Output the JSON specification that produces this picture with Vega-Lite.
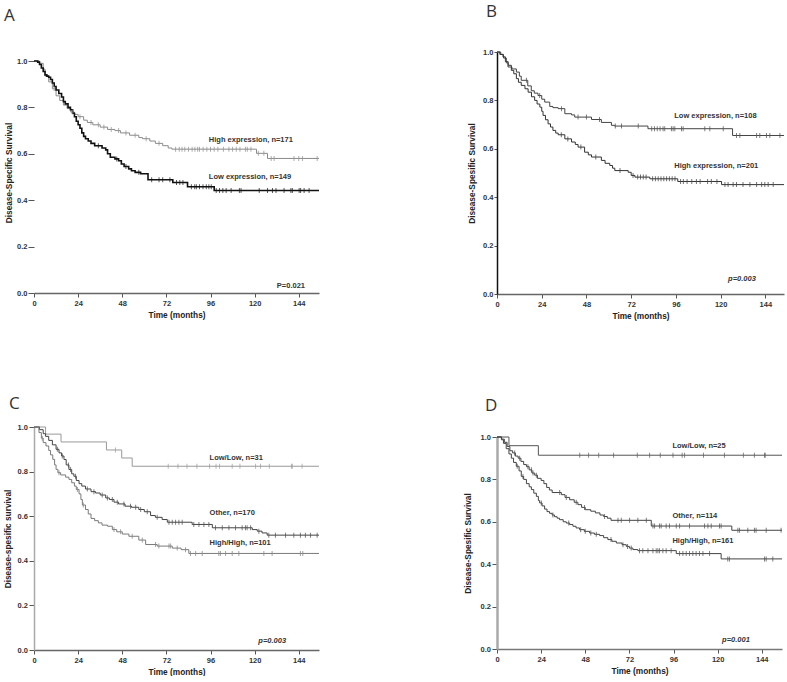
{
  "$schema": "https://vega.github.io/schema/vega-lite/v6.json",
  "background": "white",
  "padding": {"left": 3, "top": 2, "right": 0, "bottom": 0},
  "config": {
    "view": {"stroke": null},
    "title": {"font": "Open Sans", "fontSize": 17, "fontWeight": "normal", "color": "#333", "anchor": "start", "frame": "group"},
    "axis": {"labelFont": "Liberation Sans", "labelFontWeight": "bold", "labelFontSize": 7.5, "labelColor": "#333", "titleFont": "Liberation Sans", "titleFontWeight": "bold", "titleFontSize": 8.3, "titleColor": "#222", "tickColor": "#555", "domainWidth": 1.5, "grid": false, "labelFlush": false, "labelOverlap": false},
    "text": {"font": "Liberation Sans", "fontWeight": "bold", "fontSize": 7.5, "color": "#333"}
  },
  "datasets": {
    "A": [
      {"g":"High","t":0,"s":1},{"g":"High","t":3,"s":0.99},{"g":"High","t":5,"s":0.965},{"g":"High","t":6,"s":0.935},{"g":"High","t":8,"s":0.91},{"g":"High","t":10,"s":0.88},{"g":"High","t":11,"s":0.88,"c":1},{"g":"High","t":12,"s":0.85},{"g":"High","t":14,"s":0.83},{"g":"High","t":16,"s":0.81},{"g":"High","t":18,"s":0.795},{"g":"High","t":20,"s":0.78},{"g":"High","t":21,"s":0.78,"c":1},{"g":"High","t":22,"s":0.77},{"g":"High","t":24,"s":0.76},{"g":"High","t":25,"s":0.76,"c":1},{"g":"High","t":27,"s":0.745},{"g":"High","t":29,"s":0.735},{"g":"High","t":31,"s":0.735,"c":1},{"g":"High","t":32,"s":0.725},{"g":"High","t":35,"s":0.725,"c":1},{"g":"High","t":36,"s":0.715},{"g":"High","t":38,"s":0.715,"c":1},{"g":"High","t":40,"s":0.705},{"g":"High","t":42,"s":0.705,"c":1},{"g":"High","t":44,"s":0.7},{"g":"High","t":46,"s":0.7,"c":1},{"g":"High","t":47,"s":0.69},{"g":"High","t":50,"s":0.69,"c":1},{"g":"High","t":52,"s":0.68},{"g":"High","t":55,"s":0.68,"c":1},{"g":"High","t":57,"s":0.67},{"g":"High","t":59,"s":0.665},{"g":"High","t":61,"s":0.665,"c":1},{"g":"High","t":63,"s":0.655},{"g":"High","t":66,"s":0.645},{"g":"High","t":68,"s":0.645,"c":1},{"g":"High","t":70,"s":0.635},{"g":"High","t":73,"s":0.625},{"g":"High","t":75,"s":0.62},{"g":"High","t":77,"s":0.62,"c":1},{"g":"High","t":79,"s":0.62,"c":1},{"g":"High","t":80.5,"s":0.62,"c":1},{"g":"High","t":82,"s":0.62,"c":1},{"g":"High","t":84,"s":0.62,"c":1},{"g":"High","t":86,"s":0.62,"c":1},{"g":"High","t":87.5,"s":0.62,"c":1},{"g":"High","t":89,"s":0.62,"c":1},{"g":"High","t":90,"s":0.62,"c":1},{"g":"High","t":92,"s":0.62,"c":1},{"g":"High","t":94,"s":0.62,"c":1},{"g":"High","t":96,"s":0.62,"c":1},{"g":"High","t":98,"s":0.62,"c":1},{"g":"High","t":100,"s":0.62,"c":1},{"g":"High","t":103,"s":0.62,"c":1},{"g":"High","t":106,"s":0.62,"c":1},{"g":"High","t":108,"s":0.62,"c":1},{"g":"High","t":110,"s":0.62,"c":1},{"g":"High","t":112,"s":0.62,"c":1},{"g":"High","t":115,"s":0.62,"c":1},{"g":"High","t":116,"s":0.62,"c":1},{"g":"High","t":118,"s":0.62,"c":1},{"g":"High","t":121,"s":0.602},{"g":"High","t":122,"s":0.602,"c":1},{"g":"High","t":125,"s":0.602,"c":1},{"g":"High","t":127,"s":0.58},{"g":"High","t":129,"s":0.58,"c":1},{"g":"High","t":130.6,"s":0.58,"c":1},{"g":"High","t":141.4,"s":0.58,"c":1},{"g":"High","t":144,"s":0.58,"c":1},{"g":"High","t":146,"s":0.58,"c":1},{"g":"High","t":154,"s":0.58,"c":1},{"g":"High","t":155,"s":0.58},
      {"g":"Low","t":0,"s":1},{"g":"Low","t":2,"s":0.995},{"g":"Low","t":3,"s":0.985},{"g":"Low","t":4,"s":0.97},{"g":"Low","t":5,"s":0.955},{"g":"Low","t":6,"s":0.94},{"g":"Low","t":7,"s":0.935},{"g":"Low","t":8,"s":0.93},{"g":"Low","t":9,"s":0.92},{"g":"Low","t":10,"s":0.905},{"g":"Low","t":11,"s":0.89},{"g":"Low","t":12,"s":0.875},{"g":"Low","t":13.5,"s":0.86},{"g":"Low","t":15,"s":0.845},{"g":"Low","t":16,"s":0.825},{"g":"Low","t":17,"s":0.815},{"g":"Low","t":18.5,"s":0.8},{"g":"Low","t":19.8,"s":0.79},{"g":"Low","t":21,"s":0.775},{"g":"Low","t":22,"s":0.76},{"g":"Low","t":23,"s":0.74},{"g":"Low","t":24,"s":0.725},{"g":"Low","t":25,"s":0.71},{"g":"Low","t":26,"s":0.69},{"g":"Low","t":27,"s":0.675},{"g":"Low","t":28,"s":0.665},{"g":"Low","t":29.5,"s":0.655},{"g":"Low","t":31,"s":0.645},{"g":"Low","t":33,"s":0.635},{"g":"Low","t":35,"s":0.635,"c":1},{"g":"Low","t":37,"s":0.625},{"g":"Low","t":39,"s":0.617},{"g":"Low","t":40,"s":0.6},{"g":"Low","t":41.5,"s":0.585},{"g":"Low","t":44,"s":0.578},{"g":"Low","t":45,"s":0.578,"c":1},{"g":"Low","t":46,"s":0.57},{"g":"Low","t":47.5,"s":0.556},{"g":"Low","t":49,"s":0.545},{"g":"Low","t":50,"s":0.545,"c":1},{"g":"Low","t":51.5,"s":0.535},{"g":"Low","t":53,"s":0.527},{"g":"Low","t":55,"s":0.52},{"g":"Low","t":57,"s":0.52,"c":1},{"g":"Low","t":58,"s":0.514},{"g":"Low","t":62,"s":0.488},{"g":"Low","t":64,"s":0.488,"c":1},{"g":"Low","t":68,"s":0.488,"c":1},{"g":"Low","t":70,"s":0.488,"c":1},{"g":"Low","t":73.9,"s":0.488,"c":1},{"g":"Low","t":75.5,"s":0.476},{"g":"Low","t":77.5,"s":0.476,"c":1},{"g":"Low","t":79.3,"s":0.476,"c":1},{"g":"Low","t":81,"s":0.476,"c":1},{"g":"Low","t":83.5,"s":0.458},{"g":"Low","t":85.6,"s":0.458,"c":1},{"g":"Low","t":87.4,"s":0.458,"c":1},{"g":"Low","t":88.3,"s":0.458,"c":1},{"g":"Low","t":90,"s":0.458,"c":1},{"g":"Low","t":91.9,"s":0.458,"c":1},{"g":"Low","t":93.7,"s":0.458,"c":1},{"g":"Low","t":95.1,"s":0.458,"c":1},{"g":"Low","t":96.4,"s":0.458,"c":1},{"g":"Low","t":98,"s":0.442},{"g":"Low","t":99.1,"s":0.442,"c":1},{"g":"Low","t":100.9,"s":0.442,"c":1},{"g":"Low","t":102.7,"s":0.442,"c":1},{"g":"Low","t":104.5,"s":0.442,"c":1},{"g":"Low","t":107.2,"s":0.442,"c":1},{"g":"Low","t":111.7,"s":0.442,"c":1},{"g":"Low","t":112.6,"s":0.442,"c":1},{"g":"Low","t":122.5,"s":0.442,"c":1},{"g":"Low","t":127,"s":0.442,"c":1},{"g":"Low","t":129.7,"s":0.442,"c":1},{"g":"Low","t":131.6,"s":0.442,"c":1},{"g":"Low","t":136,"s":0.442,"c":1},{"g":"Low","t":139.7,"s":0.442,"c":1},{"g":"Low","t":140.5,"s":0.442,"c":1},{"g":"Low","t":144.2,"s":0.442,"c":1},{"g":"Low","t":145,"s":0.442,"c":1},{"g":"Low","t":146.9,"s":0.442,"c":1},{"g":"Low","t":149.6,"s":0.442,"c":1},{"g":"Low","t":155,"s":0.442}
    ],
    "B": [
      {"g":"Low","t":0,"s":1},{"g":"Low","t":2,"s":0.99},{"g":"Low","t":3.5,"s":0.975},{"g":"Low","t":5,"s":0.955},{"g":"Low","t":5.9,"s":0.938},{"g":"Low","t":8,"s":0.93},{"g":"Low","t":10.4,"s":0.917},{"g":"Low","t":12,"s":0.9},{"g":"Low","t":13,"s":0.883},{"g":"Low","t":15.8,"s":0.883,"c":1},{"g":"Low","t":16.5,"s":0.86},{"g":"Low","t":18.4,"s":0.84},{"g":"Low","t":20,"s":0.83},{"g":"Low","t":22,"s":0.82},{"g":"Low","t":22.9,"s":0.82,"c":1},{"g":"Low","t":24,"s":0.805},{"g":"Low","t":25.6,"s":0.793},{"g":"Low","t":28.3,"s":0.775},{"g":"Low","t":30,"s":0.77},{"g":"Low","t":32.8,"s":0.766},{"g":"Low","t":34.6,"s":0.766,"c":1},{"g":"Low","t":36.4,"s":0.745},{"g":"Low","t":40,"s":0.74},{"g":"Low","t":41.7,"s":0.731},{"g":"Low","t":43.5,"s":0.731,"c":1},{"g":"Low","t":48,"s":0.731,"c":1},{"g":"Low","t":50.7,"s":0.721},{"g":"Low","t":55,"s":0.721,"c":1},{"g":"Low","t":56,"s":0.709},{"g":"Low","t":61.4,"s":0.697},{"g":"Low","t":63,"s":0.694},{"g":"Low","t":63.5,"s":0.694,"c":1},{"g":"Low","t":66.8,"s":0.694,"c":1},{"g":"Low","t":75.8,"s":0.694,"c":1},{"g":"Low","t":81,"s":0.683},{"g":"Low","t":83,"s":0.683,"c":1},{"g":"Low","t":84.5,"s":0.683,"c":1},{"g":"Low","t":86,"s":0.683,"c":1},{"g":"Low","t":87.5,"s":0.683,"c":1},{"g":"Low","t":89.1,"s":0.683,"c":1},{"g":"Low","t":90,"s":0.683,"c":1},{"g":"Low","t":93.6,"s":0.683,"c":1},{"g":"Low","t":94.5,"s":0.683,"c":1},{"g":"Low","t":95.4,"s":0.683,"c":1},{"g":"Low","t":99,"s":0.683,"c":1},{"g":"Low","t":99.9,"s":0.683,"c":1},{"g":"Low","t":111.5,"s":0.683,"c":1},{"g":"Low","t":114.2,"s":0.683,"c":1},{"g":"Low","t":121.4,"s":0.683,"c":1},{"g":"Low","t":126.4,"s":0.655},{"g":"Low","t":128.5,"s":0.655,"c":1},{"g":"Low","t":130.3,"s":0.655,"c":1},{"g":"Low","t":139.3,"s":0.655,"c":1},{"g":"Low","t":141,"s":0.655,"c":1},{"g":"Low","t":144.6,"s":0.655,"c":1},{"g":"Low","t":146.4,"s":0.655,"c":1},{"g":"Low","t":151.8,"s":0.655,"c":1},{"g":"Low","t":154,"s":0.655},
      {"g":"High","t":0,"s":1},{"g":"High","t":1.5,"s":0.99},{"g":"High","t":3.2,"s":0.98},{"g":"High","t":4.5,"s":0.96},{"g":"High","t":6,"s":0.945},{"g":"High","t":7.7,"s":0.924},{"g":"High","t":9,"s":0.91},{"g":"High","t":10.4,"s":0.89},{"g":"High","t":11.5,"s":0.875},{"g":"High","t":13,"s":0.862},{"g":"High","t":15,"s":0.848},{"g":"High","t":16.7,"s":0.834},{"g":"High","t":18.5,"s":0.815},{"g":"High","t":20.2,"s":0.8},{"g":"High","t":21.5,"s":0.785},{"g":"High","t":23,"s":0.772},{"g":"High","t":24,"s":0.755},{"g":"High","t":24.7,"s":0.738},{"g":"High","t":26,"s":0.72},{"g":"High","t":27.4,"s":0.703},{"g":"High","t":28.7,"s":0.69},{"g":"High","t":30,"s":0.676},{"g":"High","t":31.5,"s":0.665},{"g":"High","t":32.8,"s":0.658},{"g":"High","t":34.5,"s":0.658,"c":1},{"g":"High","t":36.4,"s":0.641},{"g":"High","t":38,"s":0.641,"c":1},{"g":"High","t":40,"s":0.628},{"g":"High","t":42,"s":0.618},{"g":"High","t":43.5,"s":0.607},{"g":"High","t":45,"s":0.607,"c":1},{"g":"High","t":47,"s":0.586},{"g":"High","t":49,"s":0.575},{"g":"High","t":50.7,"s":0.566},{"g":"High","t":53,"s":0.566,"c":1},{"g":"High","t":56,"s":0.552},{"g":"High","t":58,"s":0.54},{"g":"High","t":60.5,"s":0.531},{"g":"High","t":62,"s":0.52},{"g":"High","t":63.2,"s":0.51},{"g":"High","t":66,"s":0.51,"c":1},{"g":"High","t":70.4,"s":0.503},{"g":"High","t":72,"s":0.49},{"g":"High","t":73,"s":0.49,"c":1},{"g":"High","t":74,"s":0.483},{"g":"High","t":75.5,"s":0.483,"c":1},{"g":"High","t":77,"s":0.483,"c":1},{"g":"High","t":78.5,"s":0.483,"c":1},{"g":"High","t":80,"s":0.483,"c":1},{"g":"High","t":82,"s":0.476},{"g":"High","t":83.5,"s":0.476,"c":1},{"g":"High","t":85,"s":0.476,"c":1},{"g":"High","t":86.5,"s":0.476,"c":1},{"g":"High","t":88,"s":0.476,"c":1},{"g":"High","t":89.5,"s":0.476,"c":1},{"g":"High","t":91,"s":0.476,"c":1},{"g":"High","t":92.5,"s":0.476,"c":1},{"g":"High","t":94,"s":0.476,"c":1},{"g":"High","t":95.5,"s":0.476,"c":1},{"g":"High","t":97,"s":0.465},{"g":"High","t":98.5,"s":0.465,"c":1},{"g":"High","t":100,"s":0.465,"c":1},{"g":"High","t":102,"s":0.465,"c":1},{"g":"High","t":104.5,"s":0.465,"c":1},{"g":"High","t":107,"s":0.465,"c":1},{"g":"High","t":109,"s":0.465,"c":1},{"g":"High","t":113,"s":0.465,"c":1},{"g":"High","t":115,"s":0.465,"c":1},{"g":"High","t":118,"s":0.465,"c":1},{"g":"High","t":120.5,"s":0.452},{"g":"High","t":122.3,"s":0.452,"c":1},{"g":"High","t":124,"s":0.452,"c":1},{"g":"High","t":126.7,"s":0.452,"c":1},{"g":"High","t":128.5,"s":0.452,"c":1},{"g":"High","t":132,"s":0.452,"c":1},{"g":"High","t":135.7,"s":0.452,"c":1},{"g":"High","t":139.3,"s":0.452,"c":1},{"g":"High","t":142,"s":0.452,"c":1},{"g":"High","t":143.7,"s":0.452,"c":1},{"g":"High","t":145.5,"s":0.452,"c":1},{"g":"High","t":148.2,"s":0.452,"c":1},{"g":"High","t":154,"s":0.452}
    ],
    "C": [
      {"g":"LowLow","t":0,"s":1},{"g":"LowLow","t":6.3,"s":0.968},{"g":"LowLow","t":14.7,"s":0.933},{"g":"LowLow","t":39.4,"s":0.897},{"g":"LowLow","t":44.3,"s":0.897,"c":1},{"g":"LowLow","t":47.7,"s":0.861},{"g":"LowLow","t":53.4,"s":0.824},{"g":"LowLow","t":73,"s":0.824,"c":1},{"g":"LowLow","t":78.3,"s":0.824,"c":1},{"g":"LowLow","t":83.2,"s":0.824,"c":1},{"g":"LowLow","t":88.6,"s":0.824,"c":1},{"g":"LowLow","t":95.5,"s":0.824,"c":1},{"g":"LowLow","t":99,"s":0.824,"c":1},{"g":"LowLow","t":100.9,"s":0.824,"c":1},{"g":"LowLow","t":107.8,"s":0.824,"c":1},{"g":"LowLow","t":112,"s":0.824,"c":1},{"g":"LowLow","t":120.5,"s":0.824,"c":1},{"g":"LowLow","t":123.2,"s":0.824,"c":1},{"g":"LowLow","t":128,"s":0.824,"c":1},{"g":"LowLow","t":140,"s":0.824,"c":1},{"g":"LowLow","t":140.5,"s":0.824,"c":1},{"g":"LowLow","t":145.8,"s":0.824,"c":1},{"g":"LowLow","t":155,"s":0.824},
      {"g":"Other","t":0,"s":1},{"g":"Other","t":3,"s":0.988},{"g":"Other","t":5,"s":0.97},{"g":"Other","t":6.3,"s":0.958},{"g":"Other","t":8,"s":0.94},{"g":"Other","t":10,"s":0.92},{"g":"Other","t":12,"s":0.9},{"g":"Other","t":12.7,"s":0.9,"c":1},{"g":"Other","t":13.6,"s":0.884},{"g":"Other","t":15,"s":0.87},{"g":"Other","t":15.4,"s":0.87,"c":1},{"g":"Other","t":16.3,"s":0.854},{"g":"Other","t":17.5,"s":0.83},{"g":"Other","t":18.7,"s":0.83,"c":1},{"g":"Other","t":19,"s":0.809},{"g":"Other","t":19.9,"s":0.809,"c":1},{"g":"Other","t":20.5,"s":0.79},{"g":"Other","t":21.7,"s":0.779},{"g":"Other","t":22.6,"s":0.779,"c":1},{"g":"Other","t":23,"s":0.76},{"g":"Other","t":24.5,"s":0.746},{"g":"Other","t":26,"s":0.735},{"g":"Other","t":28,"s":0.722},{"g":"Other","t":29,"s":0.722,"c":1},{"g":"Other","t":31,"s":0.71},{"g":"Other","t":32.6,"s":0.71,"c":1},{"g":"Other","t":33.5,"s":0.704},{"g":"Other","t":36,"s":0.695},{"g":"Other","t":37.1,"s":0.695,"c":1},{"g":"Other","t":39,"s":0.682},{"g":"Other","t":39.9,"s":0.682,"c":1},{"g":"Other","t":41,"s":0.675},{"g":"Other","t":42.6,"s":0.675,"c":1},{"g":"Other","t":43.5,"s":0.663},{"g":"Other","t":45.3,"s":0.663,"c":1},{"g":"Other","t":46,"s":0.655},{"g":"Other","t":48.9,"s":0.655,"c":1},{"g":"Other","t":49.5,"s":0.645},{"g":"Other","t":52.5,"s":0.645,"c":1},{"g":"Other","t":53,"s":0.64},{"g":"Other","t":55.3,"s":0.64,"c":1},{"g":"Other","t":57,"s":0.63},{"g":"Other","t":58,"s":0.63,"c":1},{"g":"Other","t":60,"s":0.62},{"g":"Other","t":61.6,"s":0.62,"c":1},{"g":"Other","t":63.4,"s":0.603},{"g":"Other","t":66,"s":0.595},{"g":"Other","t":67,"s":0.595,"c":1},{"g":"Other","t":69.7,"s":0.585},{"g":"Other","t":72.5,"s":0.573},{"g":"Other","t":73.4,"s":0.573,"c":1},{"g":"Other","t":75.2,"s":0.573,"c":1},{"g":"Other","t":77,"s":0.573,"c":1},{"g":"Other","t":78.8,"s":0.573,"c":1},{"g":"Other","t":80.6,"s":0.573,"c":1},{"g":"Other","t":86,"s":0.563},{"g":"Other","t":86.9,"s":0.563,"c":1},{"g":"Other","t":89.7,"s":0.563,"c":1},{"g":"Other","t":92.4,"s":0.563,"c":1},{"g":"Other","t":95.1,"s":0.563,"c":1},{"g":"Other","t":97,"s":0.548},{"g":"Other","t":98.7,"s":0.548,"c":1},{"g":"Other","t":102.4,"s":0.548,"c":1},{"g":"Other","t":106,"s":0.548,"c":1},{"g":"Other","t":109.6,"s":0.548,"c":1},{"g":"Other","t":113.2,"s":0.548,"c":1},{"g":"Other","t":115,"s":0.548,"c":1},{"g":"Other","t":115.9,"s":0.548,"c":1},{"g":"Other","t":117.8,"s":0.548,"c":1},{"g":"Other","t":118.7,"s":0.54},{"g":"Other","t":121.4,"s":0.533},{"g":"Other","t":122.3,"s":0.533,"c":1},{"g":"Other","t":124,"s":0.525},{"g":"Other","t":126.8,"s":0.515},{"g":"Other","t":127.7,"s":0.515,"c":1},{"g":"Other","t":131.3,"s":0.515,"c":1},{"g":"Other","t":136.8,"s":0.515,"c":1},{"g":"Other","t":141.3,"s":0.515,"c":1},{"g":"Other","t":144.9,"s":0.515,"c":1},{"g":"Other","t":147.6,"s":0.515,"c":1},{"g":"Other","t":150.4,"s":0.515,"c":1},{"g":"Other","t":154,"s":0.515,"c":1},{"g":"Other","t":155,"s":0.515},
      {"g":"HighHigh","t":0,"s":1},{"g":"HighHigh","t":2.7,"s":0.975},{"g":"HighHigh","t":4,"s":0.95},{"g":"HighHigh","t":4.5,"s":0.95,"c":1},{"g":"HighHigh","t":5,"s":0.93},{"g":"HighHigh","t":6.5,"s":0.915},{"g":"HighHigh","t":8,"s":0.895},{"g":"HighHigh","t":9,"s":0.875},{"g":"HighHigh","t":10.2,"s":0.855},{"g":"HighHigh","t":11.2,"s":0.83},{"g":"HighHigh","t":12,"s":0.81},{"g":"HighHigh","t":13,"s":0.795},{"g":"HighHigh","t":13.6,"s":0.795,"c":1},{"g":"HighHigh","t":14.5,"s":0.785},{"g":"HighHigh","t":17.2,"s":0.775},{"g":"HighHigh","t":19,"s":0.765},{"g":"HighHigh","t":20.5,"s":0.75},{"g":"HighHigh","t":22,"s":0.735},{"g":"HighHigh","t":23,"s":0.72},{"g":"HighHigh","t":23.6,"s":0.72,"c":1},{"g":"HighHigh","t":24.5,"s":0.7},{"g":"HighHigh","t":25.5,"s":0.675},{"g":"HighHigh","t":26.3,"s":0.65},{"g":"HighHigh","t":26.8,"s":0.65,"c":1},{"g":"HighHigh","t":28,"s":0.63},{"g":"HighHigh","t":29.5,"s":0.61},{"g":"HighHigh","t":31,"s":0.59},{"g":"HighHigh","t":33,"s":0.58},{"g":"HighHigh","t":35,"s":0.57},{"g":"HighHigh","t":37,"s":0.56},{"g":"HighHigh","t":40,"s":0.555},{"g":"HighHigh","t":42.6,"s":0.54},{"g":"HighHigh","t":43.5,"s":0.54,"c":1},{"g":"HighHigh","t":45,"s":0.53},{"g":"HighHigh","t":47.1,"s":0.53,"c":1},{"g":"HighHigh","t":48,"s":0.52},{"g":"HighHigh","t":51.6,"s":0.51},{"g":"HighHigh","t":53.4,"s":0.51,"c":1},{"g":"HighHigh","t":57,"s":0.493},{"g":"HighHigh","t":58.9,"s":0.493,"c":1},{"g":"HighHigh","t":60.7,"s":0.473},{"g":"HighHigh","t":66.1,"s":0.473,"c":1},{"g":"HighHigh","t":67,"s":0.466},{"g":"HighHigh","t":67.9,"s":0.466,"c":1},{"g":"HighHigh","t":73.4,"s":0.466,"c":1},{"g":"HighHigh","t":74.3,"s":0.466,"c":1},{"g":"HighHigh","t":75.2,"s":0.457},{"g":"HighHigh","t":77.9,"s":0.457,"c":1},{"g":"HighHigh","t":80,"s":0.45},{"g":"HighHigh","t":82.4,"s":0.45,"c":1},{"g":"HighHigh","t":84.2,"s":0.433},{"g":"HighHigh","t":85.1,"s":0.433,"c":1},{"g":"HighHigh","t":87.9,"s":0.433,"c":1},{"g":"HighHigh","t":91.5,"s":0.433,"c":1},{"g":"HighHigh","t":100.5,"s":0.433,"c":1},{"g":"HighHigh","t":101.4,"s":0.433,"c":1},{"g":"HighHigh","t":104.2,"s":0.433,"c":1},{"g":"HighHigh","t":107.8,"s":0.433,"c":1},{"g":"HighHigh","t":111.4,"s":0.433,"c":1},{"g":"HighHigh","t":125,"s":0.433,"c":1},{"g":"HighHigh","t":129.5,"s":0.433,"c":1},{"g":"HighHigh","t":144.9,"s":0.433,"c":1},{"g":"HighHigh","t":146.2,"s":0.433,"c":1},{"g":"HighHigh","t":155,"s":0.433}
    ],
    "D": [
      {"g":"LowLow","t":0,"s":1},{"g":"LowLow","t":6.5,"s":0.959},{"g":"LowLow","t":22.5,"s":0.914},{"g":"LowLow","t":45,"s":0.914,"c":1},{"g":"LowLow","t":49.8,"s":0.914,"c":1},{"g":"LowLow","t":55.3,"s":0.914,"c":1},{"g":"LowLow","t":63.4,"s":0.914,"c":1},{"g":"LowLow","t":76.3,"s":0.914,"c":1},{"g":"LowLow","t":83,"s":0.914,"c":1},{"g":"LowLow","t":88.8,"s":0.914,"c":1},{"g":"LowLow","t":95.7,"s":0.914,"c":1},{"g":"LowLow","t":100.7,"s":0.914,"c":1},{"g":"LowLow","t":102,"s":0.914,"c":1},{"g":"LowLow","t":112.3,"s":0.914,"c":1},{"g":"LowLow","t":123.7,"s":0.914,"c":1},{"g":"LowLow","t":134,"s":0.914,"c":1},{"g":"LowLow","t":140,"s":0.914,"c":1},{"g":"LowLow","t":145.5,"s":0.914,"c":1},{"g":"LowLow","t":145.9,"s":0.914,"c":1},{"g":"LowLow","t":155,"s":0.914},
      {"g":"Other","t":0,"s":1},{"g":"Other","t":2.5,"s":0.99},{"g":"Other","t":4,"s":0.975},{"g":"Other","t":5.5,"s":0.955},{"g":"Other","t":7,"s":0.935},{"g":"Other","t":8.5,"s":0.925},{"g":"Other","t":9.6,"s":0.925,"c":1},{"g":"Other","t":10,"s":0.91},{"g":"Other","t":11.5,"s":0.9},{"g":"Other","t":12.3,"s":0.9,"c":1},{"g":"Other","t":13,"s":0.885},{"g":"Other","t":14.5,"s":0.87},{"g":"Other","t":16,"s":0.86},{"g":"Other","t":16.8,"s":0.86,"c":1},{"g":"Other","t":17.5,"s":0.845},{"g":"Other","t":18.7,"s":0.845,"c":1},{"g":"Other","t":19,"s":0.83},{"g":"Other","t":19.6,"s":0.83,"c":1},{"g":"Other","t":20.5,"s":0.82},{"g":"Other","t":21.4,"s":0.82,"c":1},{"g":"Other","t":22,"s":0.805},{"g":"Other","t":24,"s":0.795},{"g":"Other","t":25.5,"s":0.78},{"g":"Other","t":27,"s":0.762},{"g":"Other","t":28.5,"s":0.75},{"g":"Other","t":30,"s":0.738},{"g":"Other","t":34.1,"s":0.738,"c":1},{"g":"Other","t":35,"s":0.728},{"g":"Other","t":37,"s":0.715},{"g":"Other","t":37.7,"s":0.715,"c":1},{"g":"Other","t":39.5,"s":0.704},{"g":"Other","t":42,"s":0.692},{"g":"Other","t":43.1,"s":0.692,"c":1},{"g":"Other","t":44,"s":0.681},{"g":"Other","t":46,"s":0.668},{"g":"Other","t":47.6,"s":0.668,"c":1},{"g":"Other","t":48,"s":0.657},{"g":"Other","t":51,"s":0.65},{"g":"Other","t":53.5,"s":0.642},{"g":"Other","t":56,"s":0.632},{"g":"Other","t":58,"s":0.625},{"g":"Other","t":58.5,"s":0.625,"c":1},{"g":"Other","t":60,"s":0.617},{"g":"Other","t":62,"s":0.607},{"g":"Other","t":65.8,"s":0.607,"c":1},{"g":"Other","t":67.6,"s":0.607,"c":1},{"g":"Other","t":72.1,"s":0.607,"c":1},{"g":"Other","t":76.6,"s":0.607,"c":1},{"g":"Other","t":81.2,"s":0.607,"c":1},{"g":"Other","t":83.9,"s":0.58},{"g":"Other","t":84.8,"s":0.58,"c":1},{"g":"Other","t":85.7,"s":0.58,"c":1},{"g":"Other","t":88.4,"s":0.58,"c":1},{"g":"Other","t":89.3,"s":0.58,"c":1},{"g":"Other","t":92,"s":0.58,"c":1},{"g":"Other","t":93.8,"s":0.58,"c":1},{"g":"Other","t":97.5,"s":0.58,"c":1},{"g":"Other","t":99.3,"s":0.58,"c":1},{"g":"Other","t":104.7,"s":0.58,"c":1},{"g":"Other","t":112.9,"s":0.58,"c":1},{"g":"Other","t":114.7,"s":0.58,"c":1},{"g":"Other","t":116.5,"s":0.58,"c":1},{"g":"Other","t":121,"s":0.58,"c":1},{"g":"Other","t":121.9,"s":0.58,"c":1},{"g":"Other","t":127.7,"s":0.56},{"g":"Other","t":131,"s":0.56,"c":1},{"g":"Other","t":131.9,"s":0.56,"c":1},{"g":"Other","t":136.4,"s":0.56,"c":1},{"g":"Other","t":140,"s":0.56,"c":1},{"g":"Other","t":140.9,"s":0.56,"c":1},{"g":"Other","t":146.4,"s":0.56,"c":1},{"g":"Other","t":154.5,"s":0.56,"c":1},{"g":"Other","t":155,"s":0.56},
      {"g":"HighHigh","t":0,"s":1},{"g":"HighHigh","t":2.4,"s":0.987},{"g":"HighHigh","t":3.5,"s":0.97},{"g":"HighHigh","t":5,"s":0.945},{"g":"HighHigh","t":6.5,"s":0.92},{"g":"HighHigh","t":7.8,"s":0.9},{"g":"HighHigh","t":9,"s":0.88},{"g":"HighHigh","t":10.5,"s":0.862},{"g":"HighHigh","t":11,"s":0.862,"c":1},{"g":"HighHigh","t":12,"s":0.84},{"g":"HighHigh","t":13.2,"s":0.814},{"g":"HighHigh","t":14.1,"s":0.814,"c":1},{"g":"HighHigh","t":14.5,"s":0.8},{"g":"HighHigh","t":16,"s":0.78},{"g":"HighHigh","t":17.5,"s":0.765},{"g":"HighHigh","t":18.7,"s":0.752},{"g":"HighHigh","t":20,"s":0.735},{"g":"HighHigh","t":21.4,"s":0.72},{"g":"HighHigh","t":22.5,"s":0.7},{"g":"HighHigh","t":23.2,"s":0.689},{"g":"HighHigh","t":24.1,"s":0.689,"c":1},{"g":"HighHigh","t":24.5,"s":0.675},{"g":"HighHigh","t":25.9,"s":0.66},{"g":"HighHigh","t":27.2,"s":0.648},{"g":"HighHigh","t":28.6,"s":0.64},{"g":"HighHigh","t":30,"s":0.632},{"g":"HighHigh","t":30.4,"s":0.632,"c":1},{"g":"HighHigh","t":31.3,"s":0.624},{"g":"HighHigh","t":32.7,"s":0.617},{"g":"HighHigh","t":34,"s":0.61},{"g":"HighHigh","t":36,"s":0.6},{"g":"HighHigh","t":37.7,"s":0.594},{"g":"HighHigh","t":39,"s":0.594,"c":1},{"g":"HighHigh","t":39.5,"s":0.587},{"g":"HighHigh","t":41.3,"s":0.579},{"g":"HighHigh","t":43,"s":0.571},{"g":"HighHigh","t":44.9,"s":0.563},{"g":"HighHigh","t":45.5,"s":0.563,"c":1},{"g":"HighHigh","t":47.5,"s":0.555},{"g":"HighHigh","t":48,"s":0.555,"c":1},{"g":"HighHigh","t":50.4,"s":0.547},{"g":"HighHigh","t":51,"s":0.547,"c":1},{"g":"HighHigh","t":53,"s":0.541},{"g":"HighHigh","t":54,"s":0.541,"c":1},{"g":"HighHigh","t":55.8,"s":0.535},{"g":"HighHigh","t":58,"s":0.525},{"g":"HighHigh","t":60.3,"s":0.516},{"g":"HighHigh","t":62,"s":0.516,"c":1},{"g":"HighHigh","t":62.5,"s":0.508},{"g":"HighHigh","t":64.9,"s":0.5},{"g":"HighHigh","t":68,"s":0.492},{"g":"HighHigh","t":68.5,"s":0.492,"c":1},{"g":"HighHigh","t":70.3,"s":0.484},{"g":"HighHigh","t":71,"s":0.484,"c":1},{"g":"HighHigh","t":72,"s":0.476},{"g":"HighHigh","t":73,"s":0.476,"c":1},{"g":"HighHigh","t":73.9,"s":0.469},{"g":"HighHigh","t":76.6,"s":0.464},{"g":"HighHigh","t":77.5,"s":0.464,"c":1},{"g":"HighHigh","t":79.3,"s":0.464,"c":1},{"g":"HighHigh","t":82.1,"s":0.464,"c":1},{"g":"HighHigh","t":84.8,"s":0.464,"c":1},{"g":"HighHigh","t":86.6,"s":0.464,"c":1},{"g":"HighHigh","t":87.5,"s":0.464,"c":1},{"g":"HighHigh","t":88.4,"s":0.464,"c":1},{"g":"HighHigh","t":90.2,"s":0.464,"c":1},{"g":"HighHigh","t":92,"s":0.464,"c":1},{"g":"HighHigh","t":94.7,"s":0.464,"c":1},{"g":"HighHigh","t":97.5,"s":0.45},{"g":"HighHigh","t":99.3,"s":0.45,"c":1},{"g":"HighHigh","t":101.1,"s":0.45,"c":1},{"g":"HighHigh","t":102.9,"s":0.45,"c":1},{"g":"HighHigh","t":104.7,"s":0.45,"c":1},{"g":"HighHigh","t":106.5,"s":0.45,"c":1},{"g":"HighHigh","t":108.3,"s":0.45,"c":1},{"g":"HighHigh","t":110.1,"s":0.45,"c":1},{"g":"HighHigh","t":112,"s":0.45,"c":1},{"g":"HighHigh","t":115.6,"s":0.45,"c":1},{"g":"HighHigh","t":121.9,"s":0.425},{"g":"HighHigh","t":125.5,"s":0.425,"c":1},{"g":"HighHigh","t":126.4,"s":0.425,"c":1},{"g":"HighHigh","t":145.5,"s":0.425,"c":1},{"g":"HighHigh","t":146.4,"s":0.425,"c":1},{"g":"HighHigh","t":150,"s":0.425,"c":1},{"g":"HighHigh","t":155,"s":0.425}
    ],
    "labels": [
      {"p":"A","k":"n","t":95.1,"s":0.659,"txt":"High expression, n=171"},
      {"p":"A","k":"n","t":95.1,"s":0.501,"txt":"Low expression, n=149"},
      {"p":"A","k":"p","t":147.4,"s":0.031,"txt":"P=0.021"},
      {"p":"B","k":"n","t":95.1,"s":0.734,"txt":"Low expression, n=108"},
      {"p":"B","k":"n","t":95.1,"s":0.527,"txt":"High expression, n=201"},
      {"p":"B","k":"p","t":138.9,"s":0.062,"txt":"p=0.003"},
      {"p":"C","k":"n","t":95.5,"s":0.863,"txt":"Low/Low, n=31"},
      {"p":"C","k":"n","t":95.5,"s":0.613,"txt":"Other, n=170"},
      {"p":"C","k":"n","t":95.5,"s":0.478,"txt":"High/High, n=101"},
      {"p":"C","k":"p","t":137.1,"s":0.04,"txt":"p=0.003"},
      {"p":"D","k":"n","t":95.4,"s":0.959,"txt":"Low/Low, n=25"},
      {"p":"D","k":"n","t":95.4,"s":0.629,"txt":"Other, n=114"},
      {"p":"D","k":"n","t":95.4,"s":0.508,"txt":"High/High, n=161"},
      {"p":"D","k":"p","t":137.5,"s":0.041,"txt":"p=0.001"}
    ]
  },
  "spacing": 140,
  "align": "none",
  "resolve": {"scale": {"color": "independent", "strokeWidth": "independent"}},
  "hconcat": [
    {
      "spacing": 76,
      "resolve": {"scale": {"color": "independent", "strokeWidth": "independent"}},
      "vconcat": [
        {
          "width": 285, "height": 241,
          "title": {"text": "A", "dx": -30, "offset": 27.5},
          "encoding": {
            "x": {"field": "t", "type": "quantitative", "scale": {"domain": [0, 155], "nice": false, "zero": false}, "axis": {"values": [0, 24, 48, 72, 96, 120, 144], "title": "Time (months)", "domainColor": "#666", "tickSize": 4, "labelPadding": 2, "titlePadding": 4}},
            "y": {"field": "s", "type": "quantitative", "scale": {"domain": [0, 1.0388], "nice": false}, "axis": {"values": [0, 0.2, 0.4, 0.6, 0.8, 1], "format": ".1f", "title": "Disease-Specific Survival", "domain": false, "tickSize": 6, "labelPadding": 1, "titlePadding": 3}}
          },
          "layer": [
            {"data": {"values": [{}]}, "mark": {"type": "rule", "color": "#999", "strokeWidth": 1.5},
             "encoding": {"x": {"datum": 0, "type": "quantitative"}, "y": {"datum": 0, "type": "quantitative"}, "y2": {"datum": 1}}},
            {"data": {"name": "A"}, "mark": {"type": "line", "interpolate": "step-after"},
             "encoding": {"color": {"field": "g", "type": "nominal", "scale": {"domain": ["High", "Low"], "range": ["#8a8a8a", "#111111"]}, "legend": null},
                          "strokeWidth": {"field": "g", "type": "nominal", "scale": {"domain": ["High", "Low"], "range": [1, 1.6]}, "legend": null}}},
            {"data": {"name": "A"}, "transform": [{"filter": "datum.c == 1"}], "mark": {"type": "tick", "orient": "vertical", "size": 5, "thickness": 1},
             "encoding": {"color": {"field": "g", "type": "nominal", "legend": null}}},
            {"data": {"name": "labels"}, "transform": [{"filter": "datum.p == 'A' && datum.k == 'n'"}], "mark": {"type": "text", "align": "left", "baseline": "middle"}, "encoding": {"text": {"field": "txt"}}},
            {"data": {"name": "labels"}, "transform": [{"filter": "datum.p == 'A' && datum.k == 'p'"}], "mark": {"type": "text", "align": "right", "baseline": "middle"}, "encoding": {"text": {"field": "txt"}}}
          ]
        },
        {
          "width": 285, "height": 223,
          "title": {"text": "C", "dx": -25, "offset": 10},
          "encoding": {
            "x": {"field": "t", "type": "quantitative", "scale": {"domain": [0, 155], "nice": false, "zero": false}, "axis": {"values": [0, 24, 48, 72, 96, 120, 144], "title": "Time (months)", "domainColor": "#666", "tickSize": 4, "labelPadding": 2, "titlePadding": 4}},
            "y": {"field": "s", "type": "quantitative", "scale": {"domain": [0, 1], "nice": false}, "axis": {"values": [0, 0.2, 0.4, 0.6, 0.8, 1], "format": ".1f", "title": "Disease-spesific survival", "domainColor": "#aaa", "tickSize": 5, "labelPadding": 1.5, "titlePadding": 5}}
          },
          "layer": [
            {"data": {"name": "C"}, "mark": {"type": "line", "interpolate": "step-after", "strokeWidth": 1},
             "encoding": {"color": {"field": "g", "type": "nominal", "scale": {"domain": ["LowLow", "Other", "HighHigh"], "range": ["#999999", "#444444", "#7a7a7a"]}, "legend": null}}},
            {"data": {"name": "C"}, "transform": [{"filter": "datum.c == 1"}], "mark": {"type": "tick", "orient": "vertical", "size": 5, "thickness": 1},
             "encoding": {"color": {"field": "g", "type": "nominal", "legend": null}}},
            {"data": {"name": "labels"}, "transform": [{"filter": "datum.p == 'C' && datum.k == 'n'"}], "mark": {"type": "text", "align": "left", "baseline": "middle"}, "encoding": {"text": {"field": "txt"}}},
            {"data": {"name": "labels"}, "transform": [{"filter": "datum.p == 'C' && datum.k == 'p'"}], "mark": {"type": "text", "align": "right", "baseline": "middle", "fontStyle": "italic"}, "encoding": {"text": {"field": "txt"}}}
          ]
        }
      ]
    },
    {
      "spacing": 77,
      "resolve": {"scale": {"color": "independent", "strokeWidth": "independent"}},
      "vconcat": [
        {
          "width": 287, "height": 242,
          "title": {"text": "B", "dx": -11, "offset": 27.5},
          "encoding": {
            "x": {"field": "t", "type": "quantitative", "scale": {"domain": [0, 154], "nice": false, "zero": false}, "axis": {"values": [0, 24, 48, 72, 96, 120, 144], "title": "Time (months)", "domainColor": "#666", "tickSize": 4, "labelPadding": 2, "titlePadding": 4}},
            "y": {"field": "s", "type": "quantitative", "scale": {"domain": [0, 1], "nice": false}, "axis": {"values": [0, 0.2, 0.4, 0.6, 0.8, 1], "format": ".1f", "title": "Disease-Spesific Survival", "domainColor": "#111", "tickSize": 3, "labelPadding": 1, "titlePadding": 6}}
          },
          "layer": [
            {"data": {"name": "B"}, "mark": {"type": "line", "interpolate": "step-after", "strokeWidth": 1},
             "encoding": {"color": {"field": "g", "type": "nominal", "scale": {"domain": ["Low", "High"], "range": ["#444444", "#333333"]}, "legend": null}}},
            {"data": {"name": "B"}, "transform": [{"filter": "datum.c == 1"}], "mark": {"type": "tick", "orient": "vertical", "size": 5, "thickness": 1},
             "encoding": {"color": {"field": "g", "type": "nominal", "legend": null}}},
            {"data": {"name": "labels"}, "transform": [{"filter": "datum.p == 'B' && datum.k == 'n'"}], "mark": {"type": "text", "align": "left", "baseline": "middle"}, "encoding": {"text": {"field": "txt"}}},
            {"data": {"name": "labels"}, "transform": [{"filter": "datum.p == 'B' && datum.k == 'p'"}], "mark": {"type": "text", "align": "right", "baseline": "middle", "fontStyle": "italic"}, "encoding": {"text": {"field": "txt"}}}
          ]
        },
        {
          "width": 285, "height": 212,
          "title": {"text": "D", "dx": -12, "offset": 18},
          "encoding": {
            "x": {"field": "t", "type": "quantitative", "scale": {"domain": [0, 155], "nice": false, "zero": false}, "axis": {"values": [0, 24, 48, 72, 96, 120, 144], "title": "Time (months)", "domainColor": "#777", "tickSize": 4, "labelPadding": 2, "titlePadding": 4}},
            "y": {"field": "s", "type": "quantitative", "scale": {"domain": [0, 1], "nice": false}, "axis": {"values": [0, 0.2, 0.4, 0.6, 0.8, 1], "format": ".1f", "title": "Disease-Spesific Survival", "domainColor": "#aaa", "domainWidth": 2.5, "tickSize": 5, "labelPadding": 1.5, "titlePadding": 8}}
          },
          "layer": [
            {"data": {"name": "D"}, "mark": {"type": "line", "interpolate": "step-after", "strokeWidth": 1},
             "encoding": {"color": {"field": "g", "type": "nominal", "scale": {"domain": ["LowLow", "Other", "HighHigh"], "range": ["#555555", "#444444", "#444444"]}, "legend": null}}},
            {"data": {"name": "D"}, "transform": [{"filter": "datum.c == 1"}], "mark": {"type": "tick", "orient": "vertical", "size": 5, "thickness": 1},
             "encoding": {"color": {"field": "g", "type": "nominal", "legend": null}}},
            {"data": {"name": "labels"}, "transform": [{"filter": "datum.p == 'D' && datum.k == 'n'"}], "mark": {"type": "text", "align": "left", "baseline": "middle"}, "encoding": {"text": {"field": "txt"}}},
            {"data": {"name": "labels"}, "transform": [{"filter": "datum.p == 'D' && datum.k == 'p'"}], "mark": {"type": "text", "align": "right", "baseline": "middle", "fontStyle": "italic"}, "encoding": {"text": {"field": "txt"}}}
          ]
        }
      ]
    }
  ]
}
